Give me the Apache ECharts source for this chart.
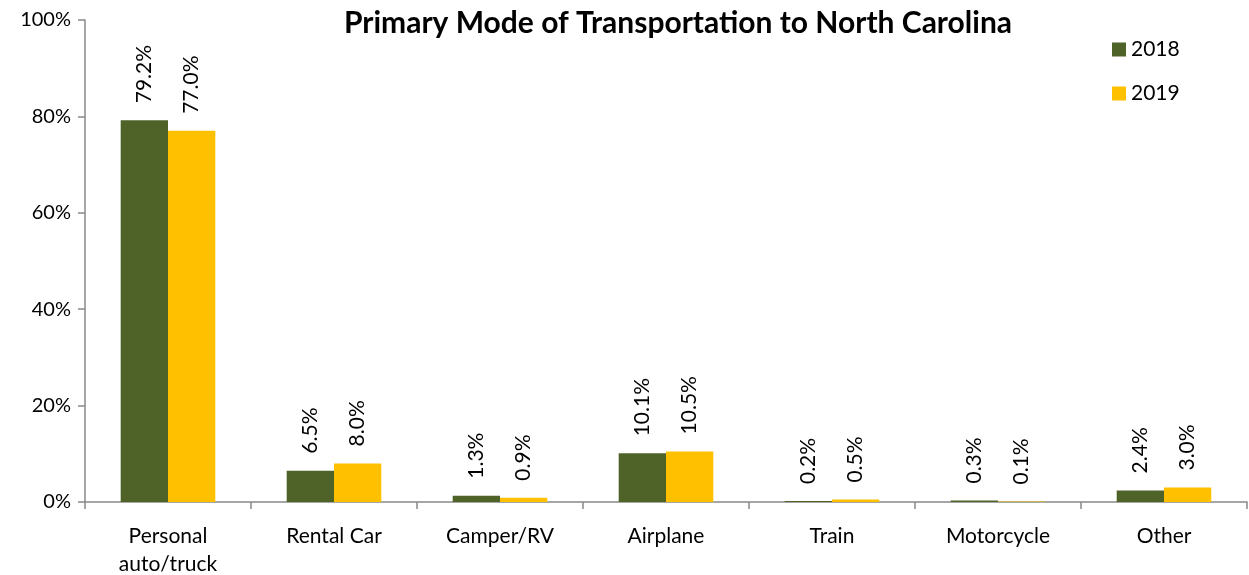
<!DOCTYPE html>
<html>
<head>
<meta charset="utf-8">
<script src="https://cdn.jsdelivr.net/npm/echarts@6/dist/echarts.min.js"></script>
<style>
  html, body { margin: 0; padding: 0; background: #fff; }
  #chart { width: 1249px; height: 575px; }
</style>
</head>
<body>
<div id="chart"></div>
<script>
const categories = ["Personal\nauto/truck", "Rental Car", "Camper/RV", "Airplane", "Train", "Motorcycle", "Other"];
const values2018 = [79.2, 6.5, 1.3, 10.1, 0.2, 0.3, 2.4];
const values2019 = [77.0, 8.0, 0.9, 10.5, 0.5, 0.1, 3.0];
const yTicks = [0, 20, 40, 60, 80, 100];

const font = "Lato, 'Open Sans', sans-serif";
const axisGray = "#898989";

const myChart = echarts.init(document.getElementById("chart"));

const barLabel = {
  show: true,
  position: "top",
  rotate: 90,
  align: "left",
  verticalAlign: "middle",
  distance: 17,
  fontFamily: font,
  fontSize: 21,
  color: "#000",
  formatter: (p) => p.value.toFixed(1) + "%",
};

const option = {
  animation: false,
  color: ["#4F6228", "#FFC000"],
  title: {
    text: "Primary Mode of Transportation to North Carolina",
    left: 673,
    top: 3,
    textAlign: "center",
    textStyle: {
      fontFamily: font,
      fontWeight: "bold",
      fontSize: 30,
      color: "#000",
    },
  },
  legend: {
    data: ["2018", "2019"],
    orient: "vertical",
    left: 1107,
    top: 34,
    itemWidth: 14,
    itemHeight: 14,
    itemGap: 23,
    icon: "rect",
    textStyle: { fontFamily: font, fontSize: 21, color: "#000" },
  },
  grid: {
    left: 85,
    right: 2,
    top: 20,
    bottom: 73,
    containLabel: false,
    outerBoundsMode: "none",
  },
  xAxis: {
    type: "category",
    data: categories,
    axisLine: { lineStyle: { color: axisGray, width: 1.5 } },
    axisTick: { show: true, length: 7, lineStyle: { color: axisGray, width: 1.5 } },
    axisLabel: {
      fontFamily: font,
      fontSize: 21,
      color: "#000",
      margin: 20,
      lineHeight: 28,
    },
  },
  yAxis: {
    type: "value",
    min: 0,
    max: 100,
    interval: 20,
    axisLine: { show: true, lineStyle: { color: axisGray, width: 1.5 } },
    axisTick: { show: true, length: 7, lineStyle: { color: axisGray, width: 1.5 } },
    splitLine: { show: false },
    axisLabel: {
      fontFamily: font,
      fontSize: 20,
      color: "#000",
      margin: 14,
      formatter: (v) => (yTicks.includes(v) ? v + "%" : ""),
    },
  },
  series: [
    {
      name: "2018",
      type: "bar",
      data: values2018,
      barGap: "0%",
      barCategoryGap: "43%",
      label: barLabel,
    },
    {
      name: "2019",
      type: "bar",
      data: values2019,
      label: barLabel,
    },
  ],
};

myChart.setOption(option);
</script>
</body>
</html>
